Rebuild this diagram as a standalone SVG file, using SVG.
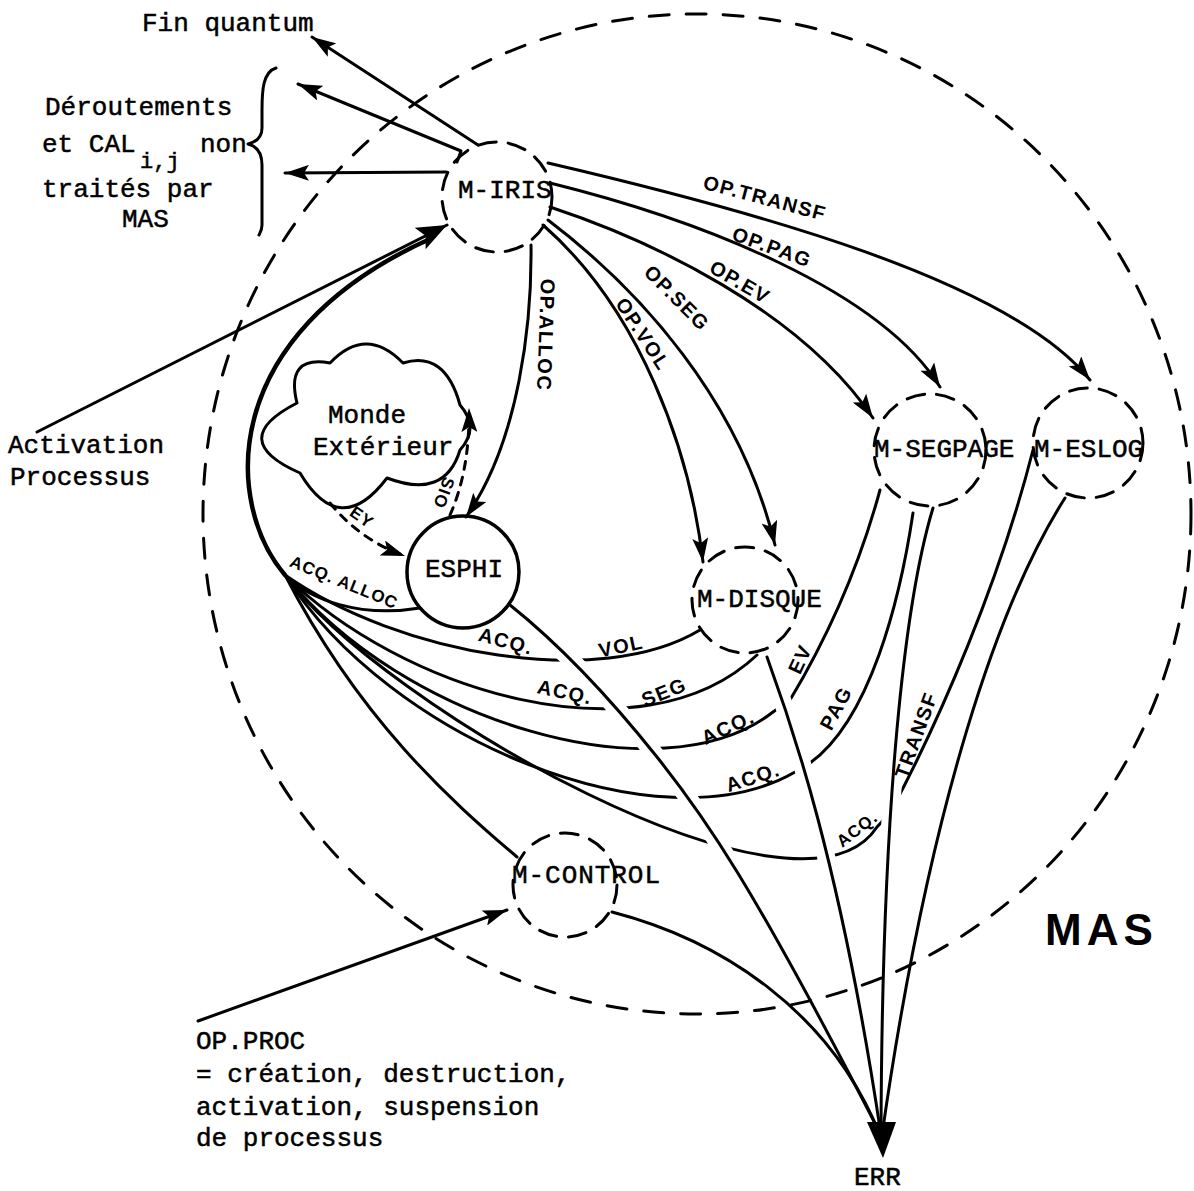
<svg xmlns="http://www.w3.org/2000/svg" width="1194" height="1191" viewBox="0 0 1194 1191">
<style>
.ln{fill:none;stroke:#000;stroke-width:3;stroke-linecap:round;stroke-linejoin:round}
.thk{fill:none;stroke:#000;stroke-width:4.5;stroke-linecap:round}
.dc{fill:none;stroke:#000;stroke-width:3;stroke-dasharray:18 12;stroke-linecap:round}
.dl{fill:none;stroke:#000;stroke-width:3;stroke-dasharray:8 8;stroke-linecap:round}
.halo{fill:none;stroke:#fff;stroke-width:18;stroke-dasharray:0 34 3000 0}
.tw{font-family:"Liberation Mono","Courier New",monospace;font-size:26px;fill:#000;stroke:#000;stroke-width:0.5}
.hw{font-family:"Liberation Sans",Arial,sans-serif;font-weight:bold;font-size:20px;letter-spacing:1.5px;fill:#000}
.hs{font-family:"Liberation Sans",Arial,sans-serif;font-weight:bold;font-size:17px;letter-spacing:1px;fill:#000}
</style>
<defs>
<marker id="ah" viewBox="0 0 24 16" refX="24" refY="8" markerWidth="24" markerHeight="16" markerUnits="userSpaceOnUse" orient="auto">
<path d="M0,0 L24,8 L0,16 L5,8 z" fill="#000"/>
</marker>
<marker id="ahb" viewBox="0 0 30 24" refX="30" refY="12" markerWidth="30" markerHeight="24" markerUnits="userSpaceOnUse" orient="auto">
<path d="M0,0 L30,12 L0,24 L6,12 z" fill="#000"/>
</marker>
</defs>
<rect width="1194" height="1191" fill="#fff"/>

<g id="connectors">
  <!-- ACQ curves back to M-IRIS -->
  <path class="ln" d="M 420 608 C 360 618, 310 600, 285 575"/>
  <path class="ln" d="M 700 630 C 600 690, 400 655, 285 575"/>
  <path class="ln" d="M 757 655 C 640 765, 400 690, 285 575"/>
  <path class="ln" d="M 880 490 Q 850 600 790 700 L 773 712 C 660 800, 400 720, 285 575"/>
  <path class="ln" d="M 913 513 C 900 600, 870 720, 810 763 L 795 772 C 660 850, 390 740, 285 575"/>
  <path class="ln" d="M 1033 450 C 1000 580, 940 720, 890 813 L 877 827 C 800 945, 380 705, 285 575"/>
  <path class="ln" d="M 517 857 C 450 800, 360 720, 285 575"/>
  <path class="thk" d="M 285 575 C 225 505, 215 335, 432 238"/>

  <!-- halos (line crossings) -->
  <path class="halo" d="M 510 605 C 560 645, 610 698, 657 757 S 750 880, 880 1158"/>
  <path class="halo" d="M 767 657 C 790 720, 840 860, 880 1158"/>
  <path class="halo" d="M 933 508 C 905 600, 882 800, 881 1158"/>

  <!-- lines to ERR -->
  <path class="ln" d="M 510 605 C 560 645, 610 698, 657 757 S 750 880, 881 1135"/>
  <path class="ln" d="M 767 657 C 790 720, 840 860, 881 1135"/>
  <path class="ln" d="M 933 508 C 905 600, 882 800, 881 1135"/>
  <path class="ln" d="M 1065 498 C 1000 600, 930 800, 882 1135"/>
  <path class="ln" d="M 612 912 C 720 940, 830 1010, 880 1135"/>
  <polygon points="867,1122 896,1122 883,1158" fill="#000"/>

  <!-- M-IRIS outputs -->
  <path class="ln" d="M 531 245 C 532 320, 520 440, 466 517" marker-end="url(#ah)"/>
  <path class="ln" d="M 543 225 C 640 310, 690 450, 703 562" marker-end="url(#ah)"/>
  <path class="ln" d="M 548 220 C 640 290, 740 400, 775 545" marker-end="url(#ah)"/>
  <path class="ln" d="M 550 207 C 650 240, 800 310, 873 418" marker-end="url(#ah)"/>
  <path class="ln" d="M 550 183 C 700 220, 880 290, 940 387" marker-end="url(#ah)"/>
  <path class="ln" d="M 548 163 C 750 210, 1010 280, 1090 380" marker-end="url(#ah)"/>

  <path class="ln" d="M 478 145 L 312 37" marker-end="url(#ah)"/>
  <path class="ln" d="M 457 162 L 461 151 L 298 84" marker-end="url(#ah)"/>
  <path class="ln" d="M 446 172 L 285 173" marker-end="url(#ah)"/>

  <path class="ln" d="M 37 432 L 447 225" marker-end="url(#ahb)"/>
  <path class="ln" d="M 198 1021 L 507 910" marker-end="url(#ah)"/>

  <!-- Monde exterieur <-> ESPHI -->
  <path class="dl" d="M 330 503 Q 360 540 405 556" marker-end="url(#ah)"/>
  <path class="dl" d="M 450 515 Q 470 470 469 408" marker-end="url(#ah)"/>

  <!-- labels -->
  <text class="hw" text-anchor="middle" transform="translate(765,198) rotate(15)" y="7">OP.TRANSF</text>
  <text class="hw" text-anchor="middle" transform="translate(772,247) rotate(20)" y="7">OP.PAG</text>
  <text class="hw" text-anchor="middle" transform="translate(740,282) rotate(30)" y="7">OP.EV</text>
  <text class="hw" text-anchor="middle" transform="translate(677,298) rotate(45)" y="7">OP.SEG</text>
  <text class="hw" text-anchor="middle" transform="translate(643,334) rotate(57)" y="7">OP.VOL</text>
  <text class="hw" text-anchor="middle" transform="translate(546,335) rotate(92)" y="7">OP.ALLOC</text>
  <text class="hs" text-anchor="middle" transform="translate(344,582) rotate(22)" y="6">ACQ. ALLOC</text>
  <text class="hw" text-anchor="middle" transform="translate(506,641) rotate(15)" y="7">ACQ.</text>
  <text class="hw" text-anchor="middle" transform="translate(621,646) rotate(-12)" y="7">VOL</text>
  <text class="hw" text-anchor="middle" transform="translate(565,692) rotate(12)" y="7">ACQ.</text>
  <text class="hw" text-anchor="middle" transform="translate(664,692) rotate(-22)" y="7">SEG</text>
  <text class="hw" text-anchor="middle" transform="translate(728,727) rotate(-25)" y="7">ACQ.</text>
  <text class="hw" text-anchor="middle" transform="translate(800,659) rotate(-65)" y="7">EV</text>
  <text class="hw" text-anchor="middle" transform="translate(753,777) rotate(-18)" y="7">ACQ.</text>
  <text class="hw" text-anchor="middle" transform="translate(836,708) rotate(-62)" y="7">PAG</text>
  <text class="hs" text-anchor="middle" transform="translate(857,829) rotate(-38)" y="6">ACQ.</text>
  <text class="hw" text-anchor="middle" transform="translate(916,735) rotate(-70)" y="7" letter-spacing="3.5">TRANSF</text>
  <text class="hs" text-anchor="middle" transform="translate(362,517) rotate(35)" y="6">EY</text>
  <text class="hs" text-anchor="middle" transform="translate(444,493) rotate(110)" y="6">SIO</text>
</g>

<g id="mas">
  <ellipse cx="697" cy="514" rx="494" ry="500" fill="none" stroke="#000" stroke-width="3" stroke-dasharray="20 17" stroke-linecap="round"/>
  <text x="1045" y="945" font-family="Liberation Sans, Arial, sans-serif" font-weight="bold" font-size="44" letter-spacing="5">MAS</text>
</g>

<g id="m-iris">
  <circle class="dc" cx="497" cy="197" r="55"/>
  <text class="tw" x="458" y="198">M-IRIS</text>
</g>
<g id="monde-exterieur">
  <path class="ln" d="M 297 403 Q 285 355 330 363 Q 366 325 403 363 Q 445 350 460 405 Q 480 428 460 450 Q 445 500 387 478 Q 340 540 300 473 Q 225 440 297 403 Z"/>
  <text class="tw" x="328" y="423">Monde</text>
  <text class="tw" x="313" y="455">Extérieur</text>
</g>
<g id="esphi">
  <circle cx="463" cy="572" r="56" fill="none" stroke="#000" stroke-width="3.5"/>
  <text class="tw" x="425" y="577">ESPHI</text>
</g>
<g id="m-disque">
  <circle class="dc" cx="745" cy="600" r="53"/>
  <text class="tw" x="697" y="607">M-DISQUE</text>
</g>
<g id="m-segpage">
  <circle class="dc" cx="930" cy="450" r="56"/>
  <text class="tw" x="874" y="457">M-SEGPAGE</text>
</g>
<g id="m-eslog">
  <circle class="dc" cx="1088" cy="443" r="55"/>
  <text class="tw" x="1034" y="457">M-ESLOG</text>
</g>
<g id="m-control">
  <circle class="dc" cx="565" cy="885" r="52"/>
  <text class="tw" x="512" y="883" textLength="148">M-CONTROL</text>
</g>
<g id="err">
  <text class="tw" x="854" y="1185">ERR</text>
</g>

<g id="texts">
  <text class="tw" x="142" y="31">Fin quantum</text>
  <text class="tw" x="45" y="115">Déroutements</text>
  <text class="tw" x="42" y="152">et CAL<tspan x="140" dy="16" font-size="22">i,j</tspan><tspan x="200" dy="-16">non</tspan></text>
  <text class="tw" x="42" y="197">traités par</text>
  <text class="tw" x="122" y="227">MAS</text>
  <path class="ln" d="M 276 68 C 263 72, 262 90, 262 110 L 262 128 C 262 138, 256 142, 248 144 C 256 146, 262 152, 262 165 L 262 225 C 262 230, 260 233, 259 235"/>
  <text class="tw" x="8" y="453">Activation</text>
  <text class="tw" x="10" y="485">Processus</text>
  <text class="tw" x="196" y="1049">OP.PROC</text>
  <text class="tw" x="196" y="1082">= création, destruction,</text>
  <text class="tw" x="196" y="1115">activation, suspension</text>
  <text class="tw" x="196" y="1146">de processus</text>
</g>
</svg>
